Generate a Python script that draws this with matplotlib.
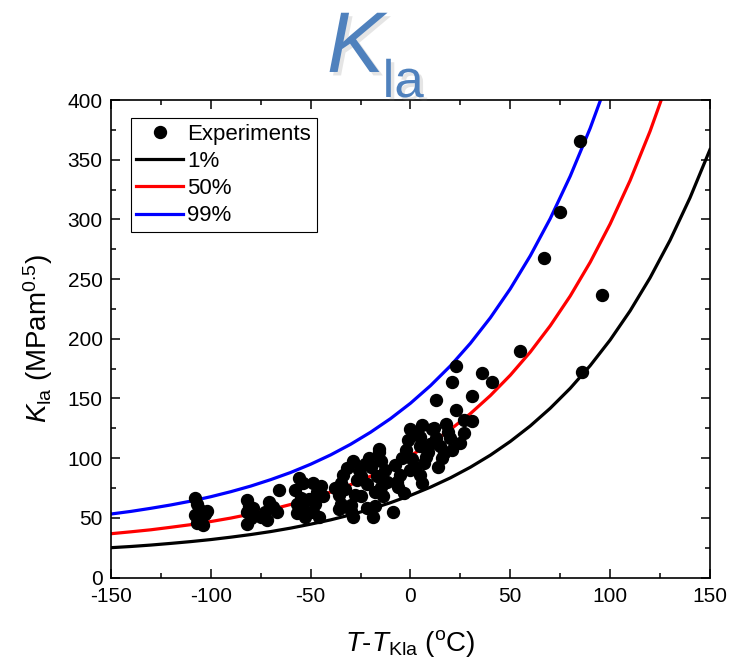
import matplotlib
matplotlib.use('Agg')
import matplotlib.pyplot as plt
import matplotlib.patheffects as pe
from matplotlib.ticker import MultipleLocator

plt.rcParams['font.family'] = ['Liberation Sans', 'DejaVu Sans']
plt.rcParams['mathtext.fontset'] = 'custom'
plt.rcParams['mathtext.rm'] = 'Liberation Sans'
plt.rcParams['mathtext.it'] = 'Liberation Sans:italic'
plt.rcParams['axes.unicode_minus'] = False

# experiments: T - T_Kla (C) and K_la (MPa m^0.5)
exp_t = [-108, -107, -106, -108, -105, -107, -104, -102, -103, -106,
         -82, -81, -82, -80, -82, -79,
         -66, -71, -69, -73, -75, -67, -72,
         -56, -54, -58, -55, -57, -54, -57, -53, -49, -47, -48, -49, -46, -51, -45, -44,
         -29, -32, -34, -35, -36, -35, -36, -30, -29, -27, -28, -30, -38, -33, -26,
         -16, -15, -21, -20, -25, -17, -22, -15, -25, -14, -19, -18, -23, -13, -12, -18, -22, -16,
         -8, -5, -7, -3, -9, -2, -1, -4, -6, 0,
         0, 6, 5, 5, 1, 8, 5, 6, 12, 13, 15, 14, 11, 13, 2, 9, 3, 10, 7,
         23, 36, 41, 21, 31, 23, 31, 27, 18, 27, 20, 21, 17, 25, 19, 16,
         85, 75, 67, 96, 55, 86]
exp_k = [67, 62, 57, 52, 50, 46, 44, 56, 53, 48,
         65, 60, 55, 50, 45, 58,
         73, 63, 59, 55, 51, 55, 48,
         83, 79, 73, 67, 62, 58, 54, 51, 79, 72, 62, 55, 51, 66, 77, 68,
         98, 92, 86, 79, 69, 62, 57, 61, 51, 82, 69, 56, 75, 74, 90,
         105, 98, 100, 93, 85, 85, 78, 76, 68, 68, 51, 60, 95, 90, 80, 72, 58, 108,
         94, 86, 80, 71, 55, 107, 115, 100, 76, 90,
         124, 128, 118, 110, 99, 101, 86, 79, 125, 117, 110, 93, 124, 149, 92, 105, 121, 112, 96,
         177, 171, 164, 164, 152, 140, 131, 132, 129, 121, 117, 107, 104, 113, 122, 100,
         366, 306, 268, 237, 190, 172]

# percentile curves
curve_t = list(range(-150, 151, 10))
k_01 = [25.0, 26.0, 27.2, 28.6, 30.1, 31.8, 33.8, 36.0, 38.5, 41.4, 44.7, 48.3, 52.5,
        57.3, 62.7, 68.8, 75.7, 83.5, 92.4, 102.5, 114.0, 127.0, 141.8, 158.5, 177.5,
        199.0, 223.4, 251.1, 282.5, 318.1, 358.5]
k_50 = [36.7, 38.3, 40.0, 42.1, 44.3, 46.9, 49.8, 53.2, 56.9, 61.2, 66.1, 71.6, 77.8,
        84.9, 92.9, 102.0, 112.3, 124.0, 137.3, 152.4, 169.5, 188.9, 210.9, 235.8, 264.1,
        296.2, 332.6, 373.9, 420.7]
k_99 = [53.2, 55.4, 58.0, 60.8, 64.0, 67.7, 71.9, 76.6, 82.0, 88.0, 94.9, 102.7, 111.6,
        121.7, 133.1, 146.0, 160.7, 177.3, 196.2, 217.6, 241.9, 269.5, 300.7, 336.2, 376.4,
        422.0]

fig = plt.figure(figsize=(7.33, 6.58), dpi=100)
ax = fig.add_axes([0.1514, 0.1223, 0.8172, 0.7257])

ax.plot(exp_t, exp_k, 'o', color='black', ms=8.6, label='Experiments', zorder=3)
ax.plot(curve_t, k_01, color='black', lw=2.3, label='1%')
ax.plot(curve_t[:len(k_50)], k_50, color='red', lw=2.3, label='50%')
ax.plot(curve_t[:len(k_99)], k_99, color='blue', lw=2.3, label='99%')

ax.set_xlim(-150, 150)
ax.set_ylim(0, 400)
ax.xaxis.set_major_locator(MultipleLocator(50))
ax.xaxis.set_minor_locator(MultipleLocator(25))
ax.yaxis.set_major_locator(MultipleLocator(50))
ax.yaxis.set_minor_locator(MultipleLocator(25))
ax.tick_params(which='both', direction='in', top=True, right=True, width=1.1,
               labelsize=15)
ax.tick_params(axis='x', pad=7)
ax.tick_params(axis='y', pad=6)
ax.tick_params(which='major', length=6.5)
ax.tick_params(which='minor', length=3.8)
for s in ax.spines.values():
    s.set_linewidth(1.2)

ax.set_xlabel(r'$T$-$T_{\rm Kla}$ ($^{\rm o}$C)', fontsize=20, labelpad=16)
ax.set_ylabel(r'$K_{\rm la}$ (MPam$^{0.5}$)', fontsize=20, labelpad=9)

leg = ax.legend(loc='upper left', bbox_to_anchor=(0.033, 0.962), borderaxespad=0,
                fontsize=16, handlelength=2.1, handletextpad=0.2, labelspacing=0.28,
                borderpad=0.25, fancybox=False, framealpha=1, edgecolor='black')
leg.get_frame().set_linewidth(0.8)

shadow = [pe.withSimplePatchShadow(offset=(2.5, -2.5), shadow_rgbFace='gray', alpha=0.2)]
fig.text(0.446, 0.8906, 'K', fontsize=62, style='italic', color='#4f81bd',
         ha='left', va='baseline', path_effects=shadow)
fig.text(0.522, 0.8526, 'la', fontsize=38, color='#4f81bd',
         ha='left', va='baseline', path_effects=shadow)

fig.savefig('out.png', dpi=100)
